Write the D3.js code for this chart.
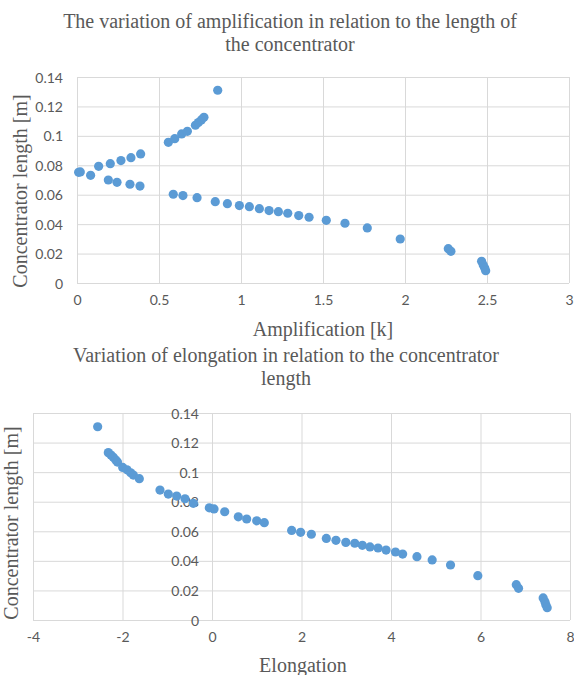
<!DOCTYPE html>
<html>
<head>
<meta charset="utf-8">
<script src="https://cdn.jsdelivr.net/npm/d3@7"></script>
<style>
  body { margin: 0; background: #fff; }
  .tick text { font-family: Lato, "Open Sans", sans-serif; font-size: 14px; fill: #595959; }
  .title, .axis-title { font-family: "Liberation Serif", "Times New Roman", serif; font-size: 20px; fill: #595959; }
</style>
</head>
<body>
<div id="container"></div>
<script>
/* DATA */
// chart 1: amplification [k] vs concentrator length [m]
const ampX = [0.010, 0.020, 0.083, 0.132, 0.203, 0.268, 0.329, 0.388,
  0.191, 0.244, 0.323, 0.384,
  0.557, 0.596, 0.638, 0.673, 0.722, 0.740, 0.758, 0.774, 0.858,
  0.587, 0.646, 0.732, 0.843, 0.917, 0.990, 1.051, 1.112, 1.171, 1.228, 1.285, 1.352, 1.415,
  1.520, 1.634, 1.770, 1.971, 2.264, 2.280, 2.467, 2.477, 2.486, 2.492];
const ampY = [0.0752, 0.0755, 0.0732, 0.0793, 0.0811, 0.0832, 0.0852, 0.0877,
  0.0700, 0.0684, 0.0671, 0.0659,
  0.0956, 0.0981, 0.1013, 0.1031, 0.1072, 0.1090, 0.1108, 0.1126, 0.1310,
  0.0603, 0.0594, 0.0580, 0.0553, 0.0539, 0.0526, 0.0519, 0.0505, 0.0492, 0.0485, 0.0474, 0.0458, 0.0447,
  0.0426, 0.0406, 0.0374, 0.0299, 0.0233, 0.0215, 0.0147, 0.0122, 0.0102, 0.0084];

// chart 2: elongation vs concentrator length [m]
const elongX = [-2.555, -2.317, -2.257, -2.205, -2.150, -2.113,
  -1.996, -1.899, -1.817, -1.758, -1.624,
  -1.162, -0.977, -0.789, -0.603, -0.418,
  -0.060, 0.045, 0.284, 0.588, 0.775, 0.999, 1.169,
  1.78, 1.98, 2.22, 2.555, 2.77, 2.99, 3.19, 3.36, 3.53, 3.71, 3.89,
  4.10, 4.26, 4.58, 4.92, 5.33, 5.94,
  6.80, 6.85, 7.40, 7.44, 7.46, 7.49];
const elongY = [0.1307, 0.1132, 0.1116, 0.1100, 0.1082, 0.1068,
  0.1032, 0.1016, 0.0996, 0.0980, 0.0956,
  0.0879, 0.0852, 0.0838, 0.0820, 0.0789,
  0.0759, 0.0751, 0.0732, 0.0698, 0.0683, 0.0671, 0.0658,
  0.0606, 0.0593, 0.0580, 0.0552, 0.0539, 0.0525, 0.0519, 0.0505, 0.0494, 0.0487, 0.0473,
  0.0460, 0.0446, 0.0428, 0.0406, 0.0372, 0.0300,
  0.0239, 0.0214, 0.0149, 0.0124, 0.0103, 0.0083];

// ticks
const lengthTicks = [0, 0.02, 0.04, 0.06, 0.08, 0.1, 0.12, 0.14];
const lengthTickLabels = ["0", "0.02", "0.04", "0.06", "0.08", "0.1", "0.12", "0.14"];
const ampTicks = [0, 0.5, 1, 1.5, 2, 2.5, 3];
const ampTickLabels = ["0", "0.5", "1", "1.5", "2", "2.5", "3"];
const elongTicks = [-4, -2, 0, 2, 4, 6, 8];
const elongTickLabels = ["-4", "-2", "0", "2", "4", "6", "8"];

/* CONSTANTS */
const width = 574, height = 675;
const dotColor = "#5B9BD5", gridColor = "#d9d9d9";

const svg = d3.select("#container").append("svg")
  .attr("width", width)
  .attr("height", height);

function label(values, labels) {
  return d => labels[values.indexOf(d)];
}

function scatter(opts) {
  const g = svg.append("g");
  const x = d3.scaleLinear().domain(opts.xDomain).range(opts.xRange);
  const y = d3.scaleLinear().domain([0, 0.14]).range(opts.yRange);
  const [top, bottom] = [opts.yRange[1], opts.yRange[0]];
  const [left, right] = opts.xRange;

  // gridlines
  g.append("g")
    .attr("transform", `translate(0,${top})`)
    .call(d3.axisBottom(x).tickValues(opts.xTicks).tickSize(bottom - top).tickFormat(""))
    .call(a => a.select(".domain").remove())
    .call(a => a.selectAll("line").attr("stroke", gridColor));
  g.append("g")
    .attr("transform", `translate(${left},0)`)
    .call(d3.axisRight(y).tickValues(lengthTicks).tickSize(right - left).tickFormat(""))
    .call(a => a.select(".domain").remove())
    .call(a => a.selectAll("line").attr("stroke", gridColor));

  // tick labels
  g.append("g")
    .attr("transform", `translate(0,${bottom})`)
    .call(d3.axisBottom(x).tickValues(opts.xTicks).tickSize(0).tickPadding(opts.xPad)
      .tickFormat(label(opts.xTicks, opts.xLabels)))
    .call(a => a.select(".domain").remove());
  g.append("g")
    .attr("transform", `translate(${x(opts.yAxisAt)},0)`)
    .call(d3.axisLeft(y).tickValues(lengthTicks).tickSize(0).tickPadding(opts.yPad)
      .tickFormat(label(lengthTicks, lengthTickLabels)))
    .call(a => a.select(".domain").remove())
    .call(a => a.selectAll("text").attr("dy", "0.36em"));

  // points
  g.append("g").selectAll("circle")
    .data(d3.zip(opts.xs, opts.ys))
    .join("circle")
      .attr("cx", d => x(d[0]))
      .attr("cy", d => y(d[1]))
      .attr("r", 4.6)
      .attr("fill", dotColor);

  // titles
  const t = g.append("text").attr("class", "title").attr("text-anchor", "middle");
  opts.title.forEach((line, i) => {
    t.append("tspan").attr("x", opts.titleX).attr("y", opts.titleY + i * 23).text(line);
  });
  g.append("text").attr("class", "axis-title")
    .attr("text-anchor", "middle")
    .attr("x", opts.xTitleX).attr("y", opts.xTitleY)
    .text(opts.xTitle);
  g.append("text").attr("class", "axis-title")
    .attr("text-anchor", "middle")
    .attr("transform", `translate(${opts.yTitleX},${opts.yTitleY}) rotate(-90)`)
    .text("Concentrator length [m]");
}

scatter({
  xs: ampX, ys: ampY,
  xDomain: [0, 3], xRange: [77, 569], yRange: [283, 77],
  xTicks: ampTicks, xLabels: ampTickLabels, xPad: 12,
  yAxisAt: 0, yPad: 14,
  title: ["The variation of amplification in relation to the length of", "the concentrator"],
  titleX: 290, titleY: 28,
  xTitle: "Amplification [k]", xTitleX: 323, xTitleY: 336,
  yTitleX: 27, yTitleY: 191
});

scatter({
  xs: elongX, ys: elongY,
  xDomain: [-4, 8], xRange: [33, 570], yRange: [620, 413],
  xTicks: elongTicks, xLabels: elongTickLabels, xPad: 12,
  yAxisAt: 0, yPad: 13,
  title: ["Variation of elongation in relation to the concentrator", "length"],
  titleX: 286, titleY: 362,
  xTitle: "Elongation", xTitleX: 303, xTitleY: 672,
  yTitleX: 18, yTitleY: 523
});
</script>
</body>
</html>
